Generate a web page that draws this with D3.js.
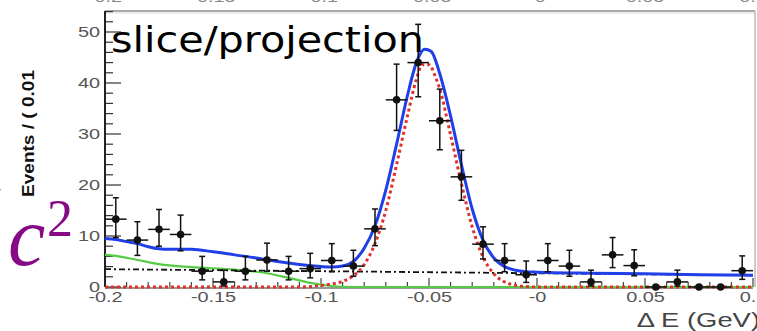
<!DOCTYPE html>
<html>
<head>
<meta charset="utf-8">
<script src="https://cdn.jsdelivr.net/npm/d3@7/dist/d3.min.js"></script>
<style>
  html, body { margin: 0; padding: 0; background: #fff; overflow: hidden; }
  svg { display: block; }
</style>
</head>
<body>
<svg id="chart" width="757" height="331"></svg>
<script>
// ---------- data ----------
const binCenters = [-0.195,-0.185,-0.175,-0.165,-0.155,-0.145,-0.135,-0.125,-0.115,-0.105,
                    -0.095,-0.085,-0.075,-0.065,-0.055,-0.045,-0.035,-0.025,-0.015,-0.005,
                     0.005, 0.015, 0.025, 0.035, 0.045, 0.055, 0.065, 0.075, 0.085, 0.095];
const counts     = [13.3, 9.2, 11.3, 10.3, 3.1, 1.0, 3.1, 5.3, 3.1, 3.6,
                     5.2, 4.1, 11.4, 36.7, 44.0, 32.6, 21.6, 8.4, 5.2, 2.4,
                     5.2, 4.1, 1.0, 6.3, 4.2, 0, 1.0, 0, 0, 3.2];
const errLow     = [3.6, 3.0, 3.3, 3.2, 1.7, 0.8, 1.7, 2.2, 1.7, 1.8,
                    2.2, 2.0, 3.3, 6.0, 6.7, 5.7, 4.6, 2.9, 2.2, 1.5,
                    2.2, 2.0, 0.8, 2.5, 2.0, 0, 0.8, 0, 0, 1.7];
const errHigh    = [4.2, 3.6, 3.9, 3.8, 2.9, 2.3, 2.9, 3.3, 2.9, 3.0,
                    3.3, 3.1, 3.9, 7.0, 7.5, 6.2, 5.2, 3.4, 3.3, 2.7,
                    3.3, 3.1, 2.3, 3.4, 3.1, 0, 2.3, 0, 0, 2.9];
const binHalfWidth = 0.005;

// fit curves: [ΔE, events]
const totalCurve = [[-0.2,9.5],[-0.195,9.3],[-0.19,8.9],[-0.185,8.5],[-0.18,7.9],[-0.175,7.5],[-0.17,7.4],
  [-0.16,7.4],[-0.15,6.9],[-0.14,6.3],[-0.13,5.7],[-0.12,5.0],[-0.11,4.4],[-0.1,4.0],[-0.095,3.9],
  [-0.09,4.1],[-0.085,5.0],[-0.08,7.6],[-0.075,12.0],[-0.07,19.0],[-0.065,28.0],[-0.06,37.5],
  [-0.056,43.8],[-0.052,46.6],[-0.049,46.2],[-0.045,41.8],[-0.04,33.5],[-0.035,24.0],[-0.03,15.3],
  [-0.025,9.2],[-0.02,5.7],[-0.015,4.0],[-0.01,3.3],[-0.005,3.0],[0,2.9],[0.025,2.7],[0.05,2.6],
  [0.075,2.4],[0.1,2.3]];
const signalCurve = [[-0.2,0],[-0.11,0],[-0.1,0.3],[-0.095,0.6],[-0.09,1.1],[-0.085,2.2],[-0.08,4.4],
  [-0.075,8.5],[-0.07,15.0],[-0.065,24.0],[-0.06,33.5],[-0.056,40.5],[-0.053,43.6],[-0.05,43.6],
  [-0.047,41.2],[-0.045,38.8],[-0.04,29.8],[-0.035,20.3],[-0.03,11.8],[-0.025,5.9],[-0.02,2.6],
  [-0.015,1.0],[-0.01,0.35],[-0.005,0.1],[0,0],[0.1,0]];
const peakingBkgCurve = [[-0.2,6.3],[-0.195,6.1],[-0.185,5.3],[-0.175,4.5],[-0.16,3.9],[-0.14,3.4],
  [-0.125,2.7],[-0.115,1.8],[-0.105,0.8],[-0.095,0.2],[-0.085,0],[0.1,0]];
const combBkgCurve = [[-0.2,3.5],[0.1,2.3]];

const xTicks = [-0.2,-0.15,-0.1,-0.05,0,0.05,0.1];
const xTickLabels = ["-0.2","-0.15","-0.1","-0.05","-0","0.05","0.1"];
const yTicks = [0,10,20,30,40,50];

// ---------- layout ----------
const svg = d3.select("#chart");
const X0 = 105, X1 = 753, Y0 = 287, YTOP = 11, FRAME_R = 755;
const x = d3.scaleLinear().domain([-0.2, 0.1]).range([X0, X1]);
const y = d3.scaleLinear().domain([0, 50]).range([Y0, 32]);
const SX = 1.37; // horizontal stretch of the original raster text

// frame (top/right gray)
svg.append("line").attr("x1", X0).attr("x2", FRAME_R).attr("y1", YTOP).attr("y2", YTOP)
  .attr("stroke", "#aaa").attr("stroke-width", 2);
svg.append("line").attr("x1", X0).attr("x2", FRAME_R).attr("y1", YTOP+2).attr("y2", YTOP+2)
  .attr("stroke", "#ddd").attr("stroke-width", 1);
svg.append("line").attr("x1", FRAME_R).attr("x2", FRAME_R).attr("y1", YTOP).attr("y2", Y0)
  .attr("stroke", "#bbb").attr("stroke-width", 1.5);

// clipped tick labels of the panel above (only their lower edge shows)
const topLab = svg.append("g").attr("fill", "#888")
  .style("font-family", "'Liberation Sans', Arial, sans-serif").style("font-size", "14.5px");
xTicks.forEach((t, i) => {
  topLab.append("text").attr("transform", `translate(${x(t)},2) scale(${SX},1)`)
    .attr("text-anchor", "middle").text(xTickLabels[i]);
});

// minor/major ticks
const yMinor = d3.range(0, 55, 2);
svg.append("g").selectAll("line").data(yMinor).join("line")
  .attr("x1", X0).attr("x2", d => X0 + (d % 10 === 0 ? 16 : 8))
  .attr("y1", d => y(d)).attr("y2", d => y(d))
  .attr("stroke", "#333").attr("stroke-width", 1.2);
const xMinor = d3.range(-0.2, 0.1001, 0.01).map(v => Math.round(v * 100) / 100);
svg.append("g").selectAll("line").data(xMinor).join("line")
  .attr("x1", d => x(d)).attr("x2", d => x(d))
  .attr("y1", Y0).attr("y2", d => Y0 - (Math.abs(Math.round(d * 100)) % 5 === 0 ? 9 : 5))
  .attr("stroke", "#444").attr("stroke-width", 1.2);

// axes lines
svg.append("line").attr("x1", X0).attr("x2", X0).attr("y1", YTOP).attr("y2", Y0)
  .attr("stroke", "#222").attr("stroke-width", 2);
svg.append("line").attr("x1", X0).attr("x2", X1).attr("y1", Y0 + 1).attr("y2", Y0 + 1)
  .attr("stroke", "#333").attr("stroke-width", 1.2);

// curves
const line = d3.line().x(d => x(d[0])).y(d => y(d[1])).curve(d3.curveMonotoneX);
svg.append("path").datum(peakingBkgCurve).attr("d", line)
  .attr("fill", "none").attr("stroke", "#55cc44").attr("stroke-width", 2.2);
svg.append("path").datum(combBkgCurve).attr("d", line)
  .attr("fill", "none").attr("stroke", "#111").attr("stroke-width", 1.8)
  .attr("stroke-dasharray", "6,3,2,3");
svg.append("path").datum(totalCurve).attr("d", line)
  .attr("fill", "none").attr("stroke", "#1f3fe8").attr("stroke-width", 3);
svg.append("path").datum(signalCurve).attr("d", line)
  .attr("fill", "none").attr("stroke", "#e0302a").attr("stroke-width", 3)
  .attr("stroke-dasharray", "3,3");

// data points with error bars
const pts = binCenters.map((c, i) => ({ c, n: counts[i], lo: errLow[i], hi: errHigh[i] }));
const gp = svg.append("g").attr("stroke", "#111").attr("stroke-width", 1.5);
pts.forEach(p => {
  gp.append("line").attr("x1", x(p.c - binHalfWidth)).attr("x2", x(p.c + binHalfWidth))
    .attr("y1", y(p.n)).attr("y2", y(p.n));
  if (p.hi > 0) {
    gp.append("line").attr("x1", x(p.c)).attr("x2", x(p.c))
      .attr("y1", y(p.n + p.hi)).attr("y2", y(Math.max(0, p.n - p.lo)));
    gp.append("line").attr("x1", x(p.c) - 3).attr("x2", x(p.c) + 3)
      .attr("y1", y(p.n + p.hi)).attr("y2", y(p.n + p.hi));
    if (p.n - p.lo > 0.1)
      gp.append("line").attr("x1", x(p.c) - 3).attr("x2", x(p.c) + 3)
        .attr("y1", y(p.n - p.lo)).attr("y2", y(p.n - p.lo));
  }
  svg.append("circle").attr("cx", x(p.c)).attr("cy", y(p.n)).attr("r", 3.8).attr("fill", "#111");
});

// axis labels via d3 axes
const xAxis = svg.append("g").attr("transform", `translate(0,${Y0})`)
  .call(d3.axisBottom(x).tickValues(xTicks).tickSize(0).tickFormat((d, i) => xTickLabels[i]));
xAxis.select(".domain").remove();
xAxis.selectAll("text").attr("fill", "#555").attr("y", 0).attr("dy", "15px")
  .attr("transform", `scale(${SX},1)`)
  .style("font-family", "'Liberation Sans', Arial, sans-serif").style("font-size", "14.5px");

const yAxis = svg.append("g").attr("transform", `translate(${X0 - 5},0)`)
  .call(d3.axisLeft(y).tickValues(yTicks).tickSize(0).tickFormat(d3.format("d")));
yAxis.select(".domain").remove();
yAxis.selectAll("text").attr("fill", "#555").attr("x", 0)
  .attr("transform", `scale(${SX},1)`)
  .style("font-family", "'Liberation Sans', Arial, sans-serif").style("font-size", "14.5px");

// axis titles
svg.append("text").attr("transform", "translate(34,197) rotate(-90)")
  .attr("text-anchor", "start").attr("fill", "#111")
  .attr("textLength", 127).attr("lengthAdjust", "spacingAndGlyphs")
  .style("font-family", "'Liberation Sans', Arial, sans-serif").style("font-weight", "bold")
  .style("font-size", "17px").text("Events / ( 0.01");

svg.append("text").attr("transform", `translate(760,327) scale(${SX},1)`)
  .attr("text-anchor", "end").attr("fill", "#444")
  .style("font-family", "'Liberation Sans', Arial, sans-serif").style("font-size", "20px")
  .text("Δ E (GeV)");

// overlay title
svg.append("text").attr("x", 111).attr("y", 52).attr("fill", "#000")
  .attr("textLength", 313).attr("lengthAdjust", "spacingAndGlyphs")
  .style("font-family", "'DejaVu Sans', sans-serif").style("font-size", "36px")
  .text("slice/projection");

// purple math fragment at the left edge
const purple = "#860a86";
svg.append("text").attr("x", -16).attr("y", 228).attr("fill", purple)
  .style("font-family", "'Liberation Serif', serif").style("font-size", "60px").text("/");
svg.append("text").attr("x", 8).attr("y", 265).attr("fill", purple)
  .style("font-family", "'Liberation Serif', serif").style("font-style", "italic")
  .style("font-size", "84px").text("c");
svg.append("text").attr("x", 47).attr("y", 236).attr("fill", purple)
  .style("font-family", "'Liberation Serif', serif").style("font-size", "52px").text("2");
</script>
</body>
</html>
